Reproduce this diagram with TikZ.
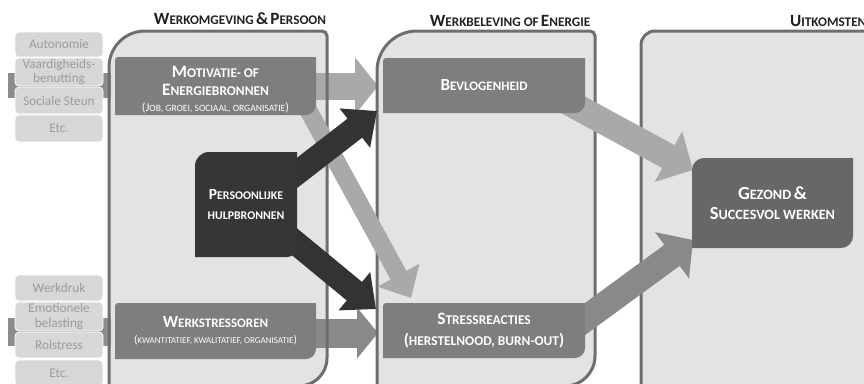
\documentclass[tikz,border=0pt]{standalone}
\usepackage{fontspec}
\setmainfont{Carlito}
\usetikzlibrary{arrows.meta,calc}
\pgfdeclarelayer{panel}
\pgfdeclarelayer{hbar}
\pgfdeclarelayer{border}
\pgfdeclarelayer{arrow}
\pgfdeclarelayer{boxfill}
\pgfsetlayers{panel,hbar,border,arrow,boxfill,main}
\definecolor{panelfill}{HTML}{E2E3E5}
\definecolor{panelline}{HTML}{6D6E70}
\definecolor{sidefill}{HTML}{D6D7D9}
\definecolor{sidetext}{HTML}{9A9B9D}
\definecolor{sidebar}{HTML}{8B8C8E}
\definecolor{midbox}{HTML}{7D7E80}
\definecolor{darkbox}{HTML}{363636}
\definecolor{outbox}{HTML}{666769}
\definecolor{lightarrow}{HTML}{A8A9AB}
\definecolor{medarrow}{HTML}{88898B}
\definecolor{blackarrow}{HTML}{333333}
\definecolor{titlecol}{HTML}{231F20}
\newcommand\fs[2]{{\fontsize{#1}{#1}\selectfont #2}}
% style, left, right, top, bottom, rTL, rTR, rBR
\newcommand\panelshape[8]{\path[#1] (#2,#5) -- (#2,#4+#6) arc[start angle=180,end angle=270,radius=#6] -- (#3-#7,#4) arc[start angle=270,end angle=360,radius=#7] -- (#3,#5-#8) arc[start angle=0,end angle=90,radius=#8] -- cycle;}
% colour, left, right, top, bottom, rTL, rBR
\newcommand\leafshape[7]{\fill[#1] (#2,#5) -- (#2,#4+#6) arc[start angle=180,end angle=270,radius=#6] -- (#3,#4) -- (#3,#5-#7) arc[start angle=0,end angle=90,radius=#7] -- cycle;}
\begin{document}
\begin{tikzpicture}[x=1pt,y=-1pt,
  sidebox/.style={rectangle, rounded corners=4pt, fill=sidefill, draw=white, line width=0.8pt, minimum width=88pt, inner sep=0pt, text=sidetext, font=\fontsize{13.2}{14.5}\selectfont, align=center},
  boxtext/.style={inner sep=0pt, text=white, align=center, font=\bfseries\fontsize{12}{18.5}\selectfont},
  titletext/.style={inner sep=0pt, text=titlecol, font=\bfseries},
  panelfillstyle/.style={fill=panelfill},
  panelborder/.style={draw=panelline, line width=3pt},
  fatarrow/.style={line cap=butt}
]
\useasboundingbox (0,0) rectangle (864,383);

% panels
\begin{pgfonlayer}{panel}
\panelshape{panelfillstyle}{109}{327}{31}{386}{36}{5}{28}
\panelshape{panelfillstyle}{377}{595}{31}{386}{40}{5}{30}
\panelshape{panelfillstyle}{641}{900}{31}{420}{14}{5}{5}
\end{pgfonlayer}
\begin{pgfonlayer}{border}
\panelshape{panelborder}{109}{327}{31}{386}{36}{5}{28}
\panelshape{panelborder}{377}{595}{31}{386}{40}{5}{30}
\panelshape{panelborder}{641}{900}{31}{420}{14}{5}{5}
\end{pgfonlayer}

% titles
\node[titletext] (t1) at (240,19) {\fs{17.2}{W}\fs{13.2}{ERKOMGEVING} \fs{17.2}{\&} \fs{17.2}{P}\fs{13.2}{ERSOON}};
\node[titletext] (t2) at (510,21) {\fs{17.2}{W}\fs{13.2}{ERKBELEVING OF} \fs{17.2}{E}\fs{13.2}{NERGIE}};
\node[titletext, anchor=west] (t3) at (790,21) {\fs{17.2}{U}\fs{13.2}{ITKOMSTEN}};

% side boxes
\node[sidebox, minimum height=25pt] (s1) at (59,44.5) {Autonomie};
\node[sidebox, minimum height=28pt] (s2) at (59,72) {Vaardigheids-\\benutting};
\node[sidebox, minimum height=27pt] (s3) at (59,100.5) {Sociale Steun};
\node[sidebox, minimum height=27pt] (s4) at (59,128.5) {Etc.};
\node[sidebox, minimum height=26pt] (s5) at (59,288) {Werkdruk};
\node[sidebox, minimum height=29pt] (s6) at (59,316.5) {Emotionele\\belasting};
\node[sidebox, minimum height=26pt] (s7) at (59,345) {Rolstress};
\node[sidebox, minimum height=26pt] (s8) at (59,373) {Etc.};

% main boxes (text)
\node[boxtext, minimum width=201pt, minimum height=58pt] (mot) at (215.5,86)
  {\rule{0pt}{18pt}\fs{17.4}{M}\fs{13.4}{OTIVATIE- OF}\\ \fs{17.4}{E}\fs{13.4}{NERGIEBRONNEN}\\[-3pt] {\mdseries\fs{12}{(J}\fs{9.6}{OB, GROEI, SOCIAAL, ORGANISATIE}\fs{12}{)}}};
\node[boxtext, minimum width=201pt, minimum height=56pt] (ws) at (215.5,331)
  {\fs{17}{W}\fs{13}{ERKSTRESSOREN}\\[-3pt] {\mdseries\fs{11.3}{(}\fs{9}{KWANTITATIEF, KWALITATIEF, ORGANISATIE}\fs{11.3}{)}}};
\node[boxtext, minimum width=102pt, minimum height=105pt] (ph) at (246,204.5)
  {\fs{15.5}{P}\fs{11.8}{ERSOONLIJKE}\\[2pt] \fs{11.8}{HULPBRONNEN}};
\node[boxtext, minimum width=202pt, minimum height=55pt] (bev) at (484,85.5)
  {\fs{17}{B}\fs{13}{EVLOGENHEID}};
\node[boxtext, minimum width=202pt, minimum height=55pt] (sr) at (484,330.5)
  {\fs{17.4}{S}\fs{13.4}{TRESSREACTIES}\\[3pt] \fs{16.5}{(}\fs{13.4}{HERSTELNOOD, BURN-OUT}\fs{16.5}{)}};
\node[boxtext, minimum width=161pt, minimum height=90pt] (gz) at (772.5,203)
  {\fs{18.5}{G}\fs{14.2}{EZOND} \fs{18.5}{\&}\\[2pt] \fs{18.5}{S}\fs{14.2}{UCCESVOL WERKEN}};

% box fills
\begin{pgfonlayer}{boxfill}
\leafshape{midbox}{115}{316}{57}{115}{3}{10}
\leafshape{midbox}{115}{316}{303}{359}{3}{10}
\leafshape{darkbox}{195}{297}{152}{257}{14}{10}
\leafshape{midbox}{383}{585}{58}{113}{3}{10}
\leafshape{midbox}{383}{585}{303}{358}{3}{10}
\leafshape{outbox}{692}{853}{158}{248}{12}{12}
\end{pgfonlayer}

% arrow end points
\coordinate (motR) at (300,86);
\coordinate (bevL) at (378,86);
\coordinate (wsR) at (300,333);
\coordinate (srL) at (378,333);
\coordinate (phU) at (262,200);
\coordinate (bevB) at (377,111);
\coordinate (phD) at (262,215);
\coordinate (srT) at (376,309);
\coordinate (motB) at (300,95);
\coordinate (srTop) at (411,298);
\coordinate (bevR) at (555,95);
\coordinate (gzU) at (693,170);
\coordinate (srR) at (570,330);
\coordinate (gzD) at (693,240);

\begin{pgfonlayer}{hbar}
\fill[sidebar] (8,73) rectangle (111,98);
\fill[sidebar] (8,318) rectangle (111,346);
\draw[fatarrow, draw=lightarrow, line width=27pt, -{Triangle[width=56pt,length=23pt]}] (motR) -- (bevL);
\draw[fatarrow, draw=medarrow, line width=29pt, -{Triangle[width=50pt,length=21pt]}] (wsR) -- (srL);
\end{pgfonlayer}

\begin{pgfonlayer}{arrow}
\draw[fatarrow, draw=lightarrow, line width=18pt, -{Triangle[width=46pt,length=26pt]}] (motB) -- (srTop);
\draw[fatarrow, draw=blackarrow, line width=24pt, -{Triangle[width=48pt,length=28pt]}] (phU) -- (bevB);
\draw[fatarrow, draw=blackarrow, line width=24pt, -{Triangle[width=48pt,length=28pt]}] (phD) -- (srT);
\draw[fatarrow, draw=lightarrow, line width=26pt, -{Triangle[width=56pt,length=28pt]}] (bevR) -- (gzU);
\draw[fatarrow, draw=medarrow, line width=26pt, -{Triangle[width=56pt,length=26pt]}] (srR) -- (gzD);
\end{pgfonlayer}
\end{tikzpicture}
\end{document}
